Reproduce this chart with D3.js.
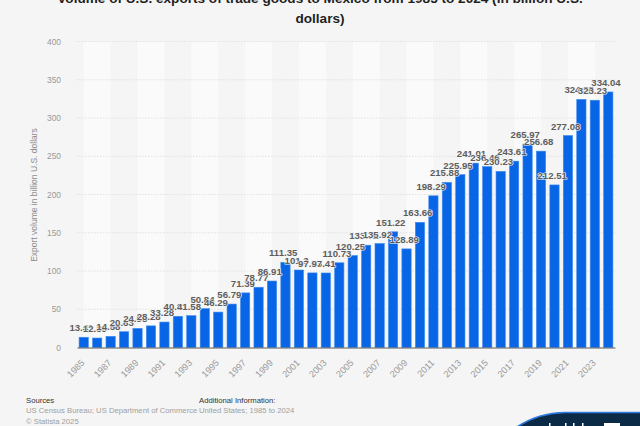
<!DOCTYPE html>
<html>
<head>
<meta charset="utf-8">
<script src="https://cdn.jsdelivr.net/npm/d3@7"></script>
<style>
  html, body { margin: 0; padding: 0; background: #f5f5f5; overflow: hidden; }
  text { font-family: "Liberation Sans", Arial, sans-serif; }
</style>
</head>
<body>
<div id="chart"></div>
<script>
// ----------------------
// Data
// ----------------------
const years = d3.range(1985, 2025);
const exportValues = [13.41, 12.39, 14.58, 20.63, 24.98, 28.28, 33.28, 40.81, 41.58, 50.84,
    46.29, 56.79, 71.39, 78.77, 86.91, 111.35, 101.3, 97.53, 97.41, 110.73,
    120.25, 133.72, 135.92, 151.22, 128.89, 163.66, 198.29, 215.88, 225.95, 241.01,
    236.46, 230.23, 243.61, 265.97, 256.68, 212.51, 277.08, 324.38, 323.23, 334.04];
const yTicks = [0, 50, 100, 150, 200, 250, 300, 350, 400];
const titleLines = ["Volume of U.S. exports of trade goods to Mexico from 1985 to 2024 (in billion U.S.", "dollars)"];

// ----------------------
// Chart setup
// ----------------------
const width = 640, height = 426;
const margin = { top: 41.5, right: 25, bottom: 78.5, left: 77 };

const svg = d3.select("#chart").append("svg")
    .attr("width", width)
    .attr("height", height)
    .style("display", "block");

const x = d3.scaleBand()
    .domain(years)
    .range([margin.left, width - margin.right])
    .paddingInner(0.31)
    .paddingOuter(0.155);

const y = d3.scaleLinear()
    .domain([0, 400])
    .range([height - margin.bottom, margin.top]);

const centre = d => x(d) + x.bandwidth() / 2;

// Title, its first line is cut by the top of the picture
svg.selectAll(".title")
    .data(titleLines)
    .enter()
    .append("text")
    .attr("x", 320)
    .attr("y", (d, i) => 3 + i * 20)
    .attr("text-anchor", "middle")
    .attr("font-size", 13.6)
    .attr("font-weight", "bold")
    .attr("fill", "#1f1f1f")
    .text(d => d);

// Alternating light stripes, two years wide
svg.selectAll(".stripe")
    .data(years.filter((d, i) => i % 4 === 0 && i < 39))
    .enter()
    .append("rect")
    .attr("x", d => centre(d))
    .attr("y", y(400))
    .attr("width", d => centre(d + 2) - centre(d))
    .attr("height", y(0) - y(400))
    .attr("fill", "#fafafa");

// Grid lines
svg.selectAll(".grid")
    .data(yTicks.filter(d => d > 0))
    .enter()
    .append("line")
    .attr("x1", margin.left - 1)
    .attr("x2", width - margin.right)
    .attr("y1", d => y(d))
    .attr("y2", d => y(d))
    .attr("stroke", "#dcdcdc")
    .attr("stroke-width", 0.8)
    .attr("stroke-dasharray", "1.5,1.5");

// Y axis
const yAxis = svg.append("g")
    .attr("transform", `translate(${margin.left - 16}, 0)`)
    .call(d3.axisLeft(y).tickValues(yTicks).tickSize(0).tickPadding(0));
yAxis.select(".domain").remove();
yAxis.selectAll("text")
    .attr("font-size", 8.4)
    .attr("fill", "#999999")
    .style("font-family", "'Liberation Sans', Arial, sans-serif");

svg.append("text")
    .attr("transform", "translate(37, 195) rotate(-90)")
    .attr("text-anchor", "middle")
    .attr("font-size", 8.5)
    .attr("fill", "#8c8c8c")
    .text("Export volume in billion U.S. dollars");

// Bars
svg.selectAll(".bar")
    .data(years)
    .enter()
    .append("rect")
    .attr("x", d => x(d))
    .attr("y", (d, i) => y(exportValues[i]))
    .attr("width", x.bandwidth())
    .attr("height", (d, i) => y(0) - y(exportValues[i]))
    .attr("fill", "#0866e6")
    .attr("stroke", "#3f8bf0")
    .attr("stroke-width", 0.6);

// X axis, every second year
const xAxis = svg.append("g")
    .attr("transform", `translate(0, ${y(0)})`)
    .call(d3.axisBottom(x).tickValues(years.filter((d, i) => i % 2 === 0)).tickSize(0).tickPadding(0));
xAxis.select(".domain")
    .attr("stroke", "#5a5a5a")
    .attr("stroke-width", 1);
xAxis.selectAll("text")
    .attr("font-size", 9.2)
    .attr("fill", "#999999")
    .attr("text-anchor", "end")
    .attr("dy", 0)
    .attr("transform", "translate(1.5, 16) rotate(-45)")
    .style("font-family", "'Liberation Sans', Arial, sans-serif");

// Value labels, they sit a little left of the bar centre
svg.selectAll(".value")
    .data(years)
    .enter()
    .append("text")
    .attr("x", d => centre(d) - 2.3)
    .attr("y", (d, i) => y(exportValues[i]) - 6)
    .attr("text-anchor", "middle")
    .attr("font-size", 9.6)
    .attr("font-weight", "bold")
    .attr("fill", "#5e5e5e")
    .attr("stroke", "#f5f5f5")
    .attr("stroke-width", 1.2)
    .attr("paint-order", "stroke")
    .text((d, i) => exportValues[i]);

// Footer
const footer = [
    { x: 26, y: 403, text: "Sources", fill: "#333333" },
    { x: 26, y: 413, text: "US Census Bureau; US Department of Commerce", fill: "#a0a0a0" },
    { x: 26, y: 424, text: "© Statista 2025", fill: "#a0a0a0" },
    { x: 199, y: 403, text: "Additional Information:", fill: "#333333" },
    { x: 199, y: 413, text: "United States; 1985 to 2024", fill: "#a0a0a0" }
];
svg.selectAll(".foot")
    .data(footer)
    .enter()
    .append("text")
    .attr("x", d => d.x)
    .attr("y", d => d.y)
    .attr("font-size", 7.7)
    .attr("fill", d => d.fill)
    .text(d => d.text);

// Corner badge, cut by the bottom of the picture
svg.append("path")
    .attr("d", "M510,432 C525,420 542,413 565,412.5 L645,412.5 L645,432 Z")
    .attr("fill", "#0b2a45")
    .attr("stroke", "#2f7be0")
    .attr("stroke-width", 1.6);

svg.append("path")
    .attr("d", "M549,423h1.5v4h-1.5z M565,423h1.5v4h-1.5z M573,423h1.5v4h-1.5z M582,423h1.5v4h-1.5z M604,423h16v4h-16z")
    .attr("fill", "#ffffff");
</script>
</body>
</html>
